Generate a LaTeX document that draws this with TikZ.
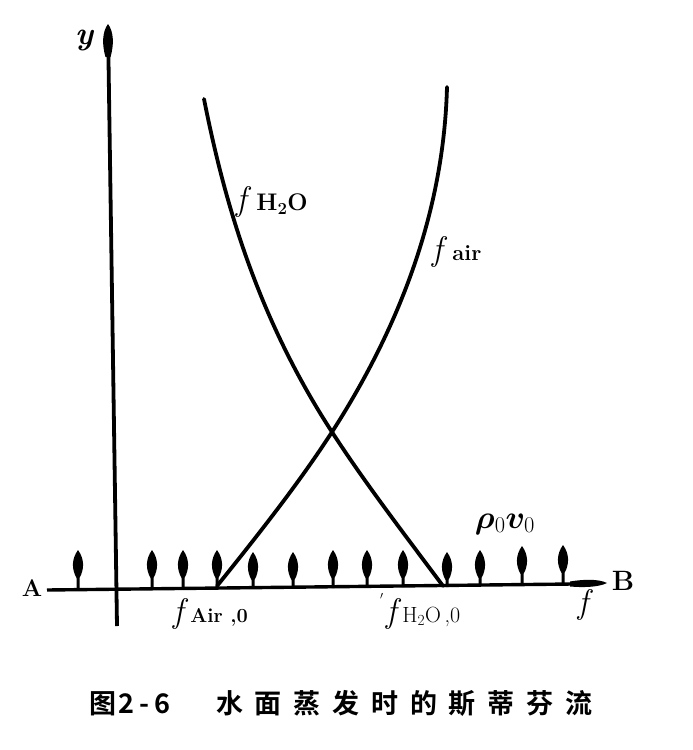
\documentclass[tikz,border=0pt]{standalone}
\usepackage{amsmath}
\usepackage{bm}
\usepackage{graphicx}
\usepackage{fontspec}
\newfontfamily\cjk[BoldFont={* Bold}]{Noto Sans CJK SC}
\newcommand\cjsp{\hspace{11.8pt}}
\newcommand\fit{{\itshape f}}
\tikzset{
  curve/.style={line width=3.8pt, line cap=round, line join=round},
  axisline/.style={line width=3.4pt},
  lbl/.style={inner sep=0pt, font=\fontsize{22}{22}\selectfont},
  ff/.style={inner sep=0pt, font=\fontsize{34}{34}\selectfont}
}
\begin{document}
\begin{tikzpicture}[x=1pt,y=-1pt]
\useasboundingbox[fill=white] (0,0) rectangle (693,750);
% axes
\coordinate (ytop) at (108,27);
\coordinate (ybot) at (117,626);
\coordinate (xl) at (47,590);
\coordinate (xr) at (572,584);
\draw[line width=3.8pt] (ytop) -- (ybot);
\fill (108,24) .. controls (114,32) and (114,45) .. (110.5,57) -- (105.5,57) .. controls (102,45) and (102,32) .. (108,24) -- cycle;
\draw[axisline] (xl) -- (xr);
\fill (607,583) .. controls (598,578.5) and (582,579.5) .. (570,581.5) -- (570,586.5) .. controls (582,587.5) and (598,587.5) .. (607,583) -- cycle;
% flux arrows
\foreach \x/\t/\b in {78/550/590, 152/550/589, 183/550/589, 217/550/588, 253/552/588, 293/552/588, 333/550/588, 367/550/587, 403/550/587, 447/552/587, 480/550/586, 522/546/585, 563/545/584}{
  \fill (\x,\t) .. controls (\x+6.5,\t+9) and (\x+6.5,\t+19) .. (\x+1.5,\t+28) -- (\x+1.5,\b) -- (\x-1.5,\b) -- (\x-1.5,\t+28) .. controls (\x-6.5,\t+19) and (\x-6.5,\t+9) .. (\x,\t) -- cycle;
}
% curves
\coordinate (cross) at (332,432);
\draw[curve] (204,99) .. controls (226,210) and (260,321) .. (cross) .. controls (365,483) and (405,535) .. (443,586);
\draw[curve] (447,87) .. controls (444,202) and (406,317) .. (cross) .. controls (299,483) and (258,535) .. (217,586);
% labels
\node[lbl, font=\fontsize{24}{24}\selectfont\bfseries] (lA) at (32,588) {A};
\node[lbl, font=\fontsize{28}{28}\selectfont\bfseries] (lB) at (623,581) {B};
\node[lbl, font=\fontsize{32}{32}\selectfont\bfseries\itshape] (ly) at (84,40) {y};
\node[ff, anchor=west] (lh2o) at (236,202) {\fit\hspace{10pt}{\fontsize{24}{24}\selectfont\bfseries H\textsubscript{2}O}};
\node[ff, anchor=west] (lair) at (432,252) {\fit\hspace{10pt}{\fontsize{22}{22}\selectfont\bfseries air}};
\node[ff, anchor=west] (lair0) at (173,614) {\fit\hspace{7pt}{\fontsize{20}{20}\selectfont\bfseries Air ,0}};
\node[lbl, font=\fontsize{16}{16}\selectfont] (ltick) at (382,600) {$'$};
\node[ff, anchor=west] (lh2o0) at (386,614) {\fit\hspace{6pt}{\fontsize{22}{22}\selectfont H\textsubscript{2}O\,,0}};
\node[ff] (lf) at (583,605) {\fit};
\node[lbl, font=\fontsize{24}{24}\selectfont\bfseries] (lrho) at (505,524) {\scalebox{1.3}{$\bm{\rho}_0\bm{v}_0$}};
\node[inner sep=0pt, anchor=west, font=\cjk\bfseries\fontsize{27}{27}\selectfont] (cap) at (89,703) {图\hspace{2pt}2\hspace{5pt}-\hspace{5pt}6\hspace{46pt}水\cjsp 面\cjsp 蒸\cjsp 发\cjsp 时\cjsp 的\cjsp 斯\cjsp 蒂\cjsp 芬\cjsp 流};
\end{tikzpicture}
\end{document}
